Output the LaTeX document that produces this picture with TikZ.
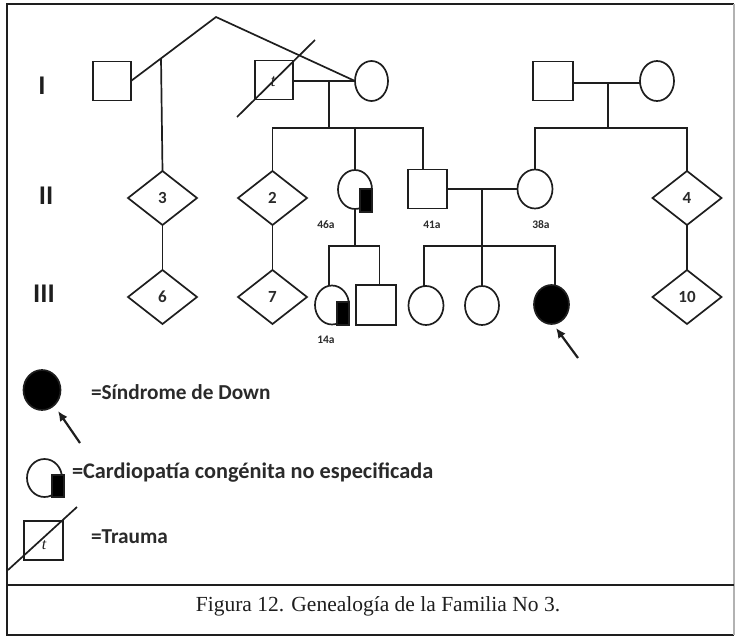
\documentclass[tikz,border=0pt]{standalone}
\usepackage{fontspec}
\setmainfont{Carlito}
\newfontfamily\capfont{Liberation Serif}
\usetikzlibrary{shapes.geometric,arrows.meta}
\definecolor{ink}{HTML}{1E1E1E}
\definecolor{txt}{HTML}{2A2A2A}
\begin{document}
\begin{tikzpicture}[x=1pt,y=-1pt,
  every node/.style={inner sep=0pt,outer sep=0pt},
  lw/.style={line width=1.7pt,draw=ink},
  male/.style={lw,rectangle,minimum width=38pt,minimum height=39pt},
  female/.style={lw,ellipse,minimum width=34pt,minimum height=39pt},
  affected/.style={female,fill=black},
  unk/.style={lw,diamond,minimum width=69pt,minimum height=54pt,text=txt,
    font=\bfseries\fontsize{17}{17}\selectfont},
  link/.style={lw},
  carrierbox/.style={fill=black,draw=ink,line width=1.2pt},
  agelbl/.style={text=txt,font=\bfseries\fontsize{11.5}{11.5}\selectfont},
  genlbl/.style={text=ink,font=\bfseries\fontsize{27}{27}\selectfont},
  legtxt/.style={anchor=west,text=txt,font=\bfseries\fontsize{21.3}{21.3}\selectfont},
  tletter/.style={text=ink,font=\capfont\itshape\fontsize{18}{18}\selectfont},
  pointer/.style={line width=2.2pt,draw=ink,-{Latex[length=10pt,width=9pt]}},
  frame/.style={line width=1.6pt,draw=ink},
]
\useasboundingbox (0,0) rectangle (737,637);

% outer frame and caption rule
\draw[frame] (734,4) -- (7,4) -- (7,635) -- (734,635);
\draw[frame,draw=black!30] (734,4) -- (734,635);
\draw[frame] (7,585) -- (734,585);

% generation labels
\node[genlbl] (genI) at (42,86) {I};
\node[genlbl] (genII) at (46,196) {II};
\node[genlbl] (genIII) at (44,294) {III};

% generation I
\node[male] (g1a) at (112,81) {};
\node[male] (g1b) at (274,80) {};
\node[tletter] (g1bt) at (273,82) {t};
\node[female,minimum width=33pt,minimum height=40pt] (g1c) at (371.5,81) {};
\node[male,minimum width=40pt] (g1d) at (553,81) {};
\node[female,minimum width=34pt,minimum height=40pt] (g1e) at (657,81) {};

% generation II
\node[unk] (d3) at (162.5,198) {3};
\node[unk] (d2) at (272.5,198) {2};
\node[female] (f46) at (355,189.5) {};
\fill[carrierbox] (360,189) rectangle (372,212);
\node[male,minimum width=39pt] (m41) at (427.5,189) {};
\node[female,minimum width=35pt] (f38) at (535,189) {};
\node[unk] (d4) at (687,198) {4};

\node[agelbl] (a46) at (326,225) {46a};
\node[agelbl] (a41) at (432,225) {41a};
\node[agelbl] (a38) at (541,225) {38a};

% generation III
\node[unk] (d6) at (162.5,297) {6};
\node[unk] (d7) at (272.5,297) {7};
\node[female] (f14) at (332,305) {};
\fill[carrierbox] (337,302) rectangle (349,325);
\node[male,minimum width=40pt,minimum height=40pt] (m3) at (376,305) {};
\node[female,minimum width=35pt] (f3a) at (426,305.5) {};
\node[female,minimum width=34pt] (f3b) at (482,305.5) {};
\node[affected,minimum width=35pt] (f3c) at (551.5,304.5) {};
\node[unk] (d10) at (687,297) {10};
\node[agelbl] (a14) at (326,340) {14a};

% trauma stroke across I-2
\draw[lw] ([shift={(-37,37)}]g1b.center) -- ([shift={(41,-40)}]g1b.center);

% first union of I-3 and the half sibship
\coordinate (apex) at (216,17);
\coordinate (hs) at (161,58);
\draw[link] (g1a.east) -- (apex) -- (g1c.west);
\draw[link] (hs) -- (d3.north);

% couple I-2 / I-3
\coordinate (u1) at (329,81);
\coordinate (s1) at (329,128);
\draw[link] (g1b.east |- u1) -- (g1c.west);
\draw[link] (u1) -- (s1);
\draw[link] (d2.north) |- (s1);
\draw[link] (s1) -| ([xshift=-4.5pt]m41.north);
\draw[link] (f46.north) -- (f46.north |- s1);

% couple I-4 / I-5
\coordinate (u2) at (608,83);
\coordinate (s2) at (608,128);
\draw[link] (g1d.east |- u2) -- (g1e.west |- u2);
\draw[link] (u2) -- (s2);
\draw[link] (f38.north) |- (s2) -| (d4.north);

% couple II-4 / II-5
\coordinate (u3) at (482,189);
\coordinate (s3) at (482,246);
\draw[link] (m41.east) -- (f38.west);
\draw[link] (u3) -- (s3);
\draw[link] ([xshift=-2pt]f3a.north) |- (s3) -| ([xshift=3.5pt]f3c.north);
\draw[link] (s3) -- (f3b.north);

% children of II-3
\coordinate (s4) at (355,246);
\draw[link] (f46.south) -- (s4);
\draw[link] ([xshift=-3pt]f14.north) |- (s4) -| ([xshift=3.5pt]m3.north);

% single lines of descent
\draw[link] (d3.south) -- (d6.north);
\draw[link] (d2.south) -- (d7.north);
\draw[link] (d4.south) -- (d10.north);

% proband
\coordinate (pb) at (578,358);
\draw[pointer] (pb) -- (556,328);

% legend
\node[affected,minimum width=37pt,minimum height=40pt] (lg1) at (42,390) {};
\coordinate (lg1p) at (80,443);
\draw[pointer] (lg1p) -- (58,411);
\node[legtxt] (lt1) at (91,392) {=Síndrome de Down};

\node[female,minimum width=35pt,minimum height=38pt] (lg2) at (44.5,478) {};
\fill[carrierbox] (52,475) rectangle (64,497);
\node[legtxt,font=\bfseries\fontsize{22.3}{22.3}\selectfont] (lt2) at (72,473)
  {=Cardiopatía congénita no especificada};

\node[male,minimum width=39pt,minimum height=39pt] (lg3) at (43.5,540.5) {};
\node[tletter,font=\capfont\itshape\fontsize{16}{16}\selectfont] (lg3t) at (44,545) {t};
\draw[lw] (8,570) -- (77,507);
\node[legtxt] (lt3) at (91,537) {=Trauma};

% caption
\node[text=ink,font=\capfont\fontsize{21.5}{21.5}\selectfont] (cap) at (378,606)
  {Figura 12. Genealogía de la Familia No 3.};
\end{tikzpicture}
\end{document}
